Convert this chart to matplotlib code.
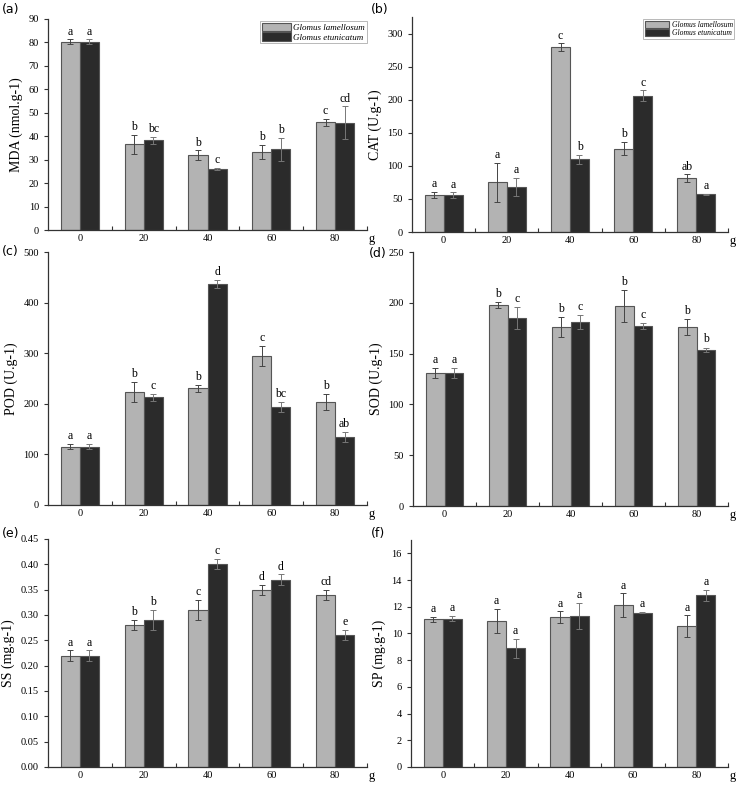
import matplotlib
matplotlib.use("Agg")
import matplotlib.pyplot as plt
import numpy as np

plt.rcParams['font.family'] = ['Liberation Serif', 'DejaVu Serif']

doses = ["0", "20", "40", "60", "80"]
series_names = ["Glomus lamellosum", "Glomus etunicatum"]

# (a) MDA
mda_gl = [80.3, 36.5, 32.0, 33.2, 46.0]
mda_ge = [80.3, 38.2, 26.0, 34.4, 45.7]
mda_gl_err = [1.0, 4.0, 2.0, 3.0, 1.5]
mda_ge_err = [1.0, 1.5, 0.5, 5.0, 7.0]
mda_gl_lab = ["a", "b", "b", "b", "c"]
mda_ge_lab = ["a", "bc", "c", "b", "cd"]

# (b) CAT
cat_gl = [56, 75, 279, 126, 81]
cat_ge = [56, 68, 110, 206, 57]
cat_gl_err = [5, 30, 6, 10, 6]
cat_ge_err = [4, 14, 7, 8, 1]
cat_gl_lab = ["a", "a", "c", "b", "ab"]
cat_ge_lab = ["a", "a", "b", "c", "a"]

# (c) POD
pod_gl = [115, 224, 231, 294, 203]
pod_ge = [115, 213, 436, 193, 135]
pod_gl_err = [5, 20, 7, 20, 16]
pod_ge_err = [5, 7, 8, 10, 10]
pod_gl_lab = ["a", "b", "b", "c", "b"]
pod_ge_lab = ["a", "c", "d", "bc", "ab"]

# (d) SOD
sod_gl = [131, 198, 176, 197, 176]
sod_ge = [131, 185, 181, 177, 154]
sod_gl_err = [5, 3, 10, 16, 8]
sod_ge_err = [5, 11, 7, 3, 2]
sod_gl_lab = ["a", "b", "b", "b", "b"]
sod_ge_lab = ["a", "c", "c", "c", "b"]

# (e) SS
ss_gl = [0.22, 0.28, 0.31, 0.35, 0.34]
ss_ge = [0.22, 0.29, 0.40, 0.37, 0.26]
ss_gl_err = [0.01, 0.01, 0.02, 0.01, 0.01]
ss_ge_err = [0.01, 0.02, 0.01, 0.01, 0.01]
ss_gl_lab = ["a", "b", "c", "d", "cd"]
ss_ge_lab = ["a", "b", "c", "d", "e"]

# (f) SP
sp_gl = [11.05, 10.93, 11.2, 12.1, 10.55]
sp_ge = [11.1, 8.9, 11.3, 11.55, 12.85]
sp_gl_err = [0.2, 0.9, 0.45, 0.9, 0.8]
sp_ge_err = [0.2, 0.7, 1.0, 0.05, 0.4]
sp_gl_lab = ["a", "a", "a", "a", "a"]
sp_ge_lab = ["a", "a", "a", "a", "a"]

W, H = 740, 787
fig = plt.figure(figsize=(W / 100, H / 100), dpi=100)

GRAY = "#b3b3b3"
DARK = "#2b2b2b"


def px_axes(l, t, r, b):
    return fig.add_axes([l / W, 1 - b / H, (r - l) / W, (b - t) / H])


def panel(box, tag, tag_xy, ylabel, gl, ge, gl_err, ge_err, gl_lab, ge_lab,
          ymax, yticks, fmt="{:g}", legend=None):
    ax = px_axes(*box)
    x = np.arange(len(doses))
    w = 0.3
    ax.bar(x - w / 2, gl, w, color=GRAY, edgecolor="#555555", linewidth=0.8,
           label=series_names[0])
    ax.bar(x + w / 2, ge, w, color=DARK, edgecolor="#555555", linewidth=0.8,
           label=series_names[1])
    ax.errorbar(x - w / 2, gl, yerr=gl_err, fmt="none", ecolor="#444444",
                elinewidth=0.7, capsize=2.5, capthick=0.7)
    ax.errorbar(x + w / 2, ge, yerr=ge_err, fmt="none", ecolor="#777777",
                elinewidth=0.7, capsize=2.5, capthick=0.7)
    pad = ymax * 0.008
    for i in range(len(doses)):
        ax.text(x[i] - w / 2, gl[i] + gl_err[i] + pad, gl_lab[i],
                ha="center", va="bottom", fontsize=8.5)
        ax.text(x[i] + w / 2, ge[i] + ge_err[i] + pad, ge_lab[i],
                ha="center", va="bottom", fontsize=8.5)

    ax.set_xlim(-0.5, 4.5)
    ax.set_ylim(0, ymax)
    ax.set_yticks(yticks)
    ax.set_yticklabels([fmt.format(v) for v in yticks])
    ax.set_xticks(x)
    ax.set_xticklabels(doses)
    ax.set_xticks(np.arange(0.5, 5, 1), minor=True)
    ax.tick_params(axis="x", which="major", length=0, labelsize=7.5, pad=3)
    ax.tick_params(axis="x", which="minor", direction="in", length=3,
                   width=0.8, color="#333333")
    ax.tick_params(axis="y", direction="out", length=3, width=0.8,
                   labelsize=7.5, color="#333333")
    for s in ["top", "right"]:
        ax.spines[s].set_visible(False)
    for s in ["left", "bottom"]:
        ax.spines[s].set_linewidth(0.9)
        ax.spines[s].set_color("#333333")
    ax.set_ylabel(ylabel, fontsize=10, labelpad=4)
    ax.text(1.006, -0.012, "g", transform=ax.transAxes, ha="left", va="top",
            fontsize=9)
    fig.text(tag_xy[0] / W, 1 - tag_xy[1] / H, tag, ha="left", va="center",
             fontsize=9, family=["DejaVu Sans"])
    if legend is not None:
        leg = ax.legend(loc="upper right", bbox_to_anchor=legend[0],
                        prop={"family": "Liberation Serif", "style": "italic",
                              "size": legend[1]},
                        frameon=True, fancybox=False, edgecolor="#999999",
                        borderpad=0.2, labelspacing=0.05, handlelength=3.2,
                        handleheight=1.0, handletextpad=0.3, borderaxespad=0)
        leg.get_frame().set_linewidth(0.6)
    return ax


panel((48, 19, 367, 230), "(a)", (2, 9), "MDA (nmol.g-1)", mda_gl, mda_ge,
      mda_gl_err, mda_ge_err, mda_gl_lab, mda_ge_lab, 90,
      np.arange(0, 91, 10), legend=((1.0, 0.99), 6.5))
panel((412, 17, 728, 232), "(b)", (371, 9), "CAT (U.g-1)", cat_gl, cat_ge,
      cat_gl_err, cat_ge_err, cat_gl_lab, cat_ge_lab, 325,
      np.arange(0, 301, 50), legend=((1.02, 0.99), 5.5))
panel((48, 252, 367, 505), "(c)", (2, 252), "POD (U.g-1)", pod_gl, pod_ge,
      pod_gl_err, pod_ge_err, pod_gl_lab, pod_ge_lab, 500,
      np.arange(0, 501, 100))
panel((413, 252, 728, 506), "(d)", (369, 254), "SOD (U.g-1)", sod_gl, sod_ge,
      sod_gl_err, sod_ge_err, sod_gl_lab, sod_ge_lab, 250,
      np.arange(0, 251, 50))
panel((48, 539, 367, 767), "(e)", (2, 533), "SS (mg.g-1)", ss_gl, ss_ge,
      ss_gl_err, ss_ge_err, ss_gl_lab, ss_ge_lab, 0.45,
      np.round(np.arange(0, 0.451, 0.05), 2), fmt="{:.2f}")
panel((411, 540, 728, 767), "(f)", (371, 533), "SP (mg.g-1)", sp_gl, sp_ge,
      sp_gl_err, sp_ge_err, sp_gl_lab, sp_ge_lab, 17,
      np.arange(0, 17, 2))

fig.savefig("out.png", dpi=100)
